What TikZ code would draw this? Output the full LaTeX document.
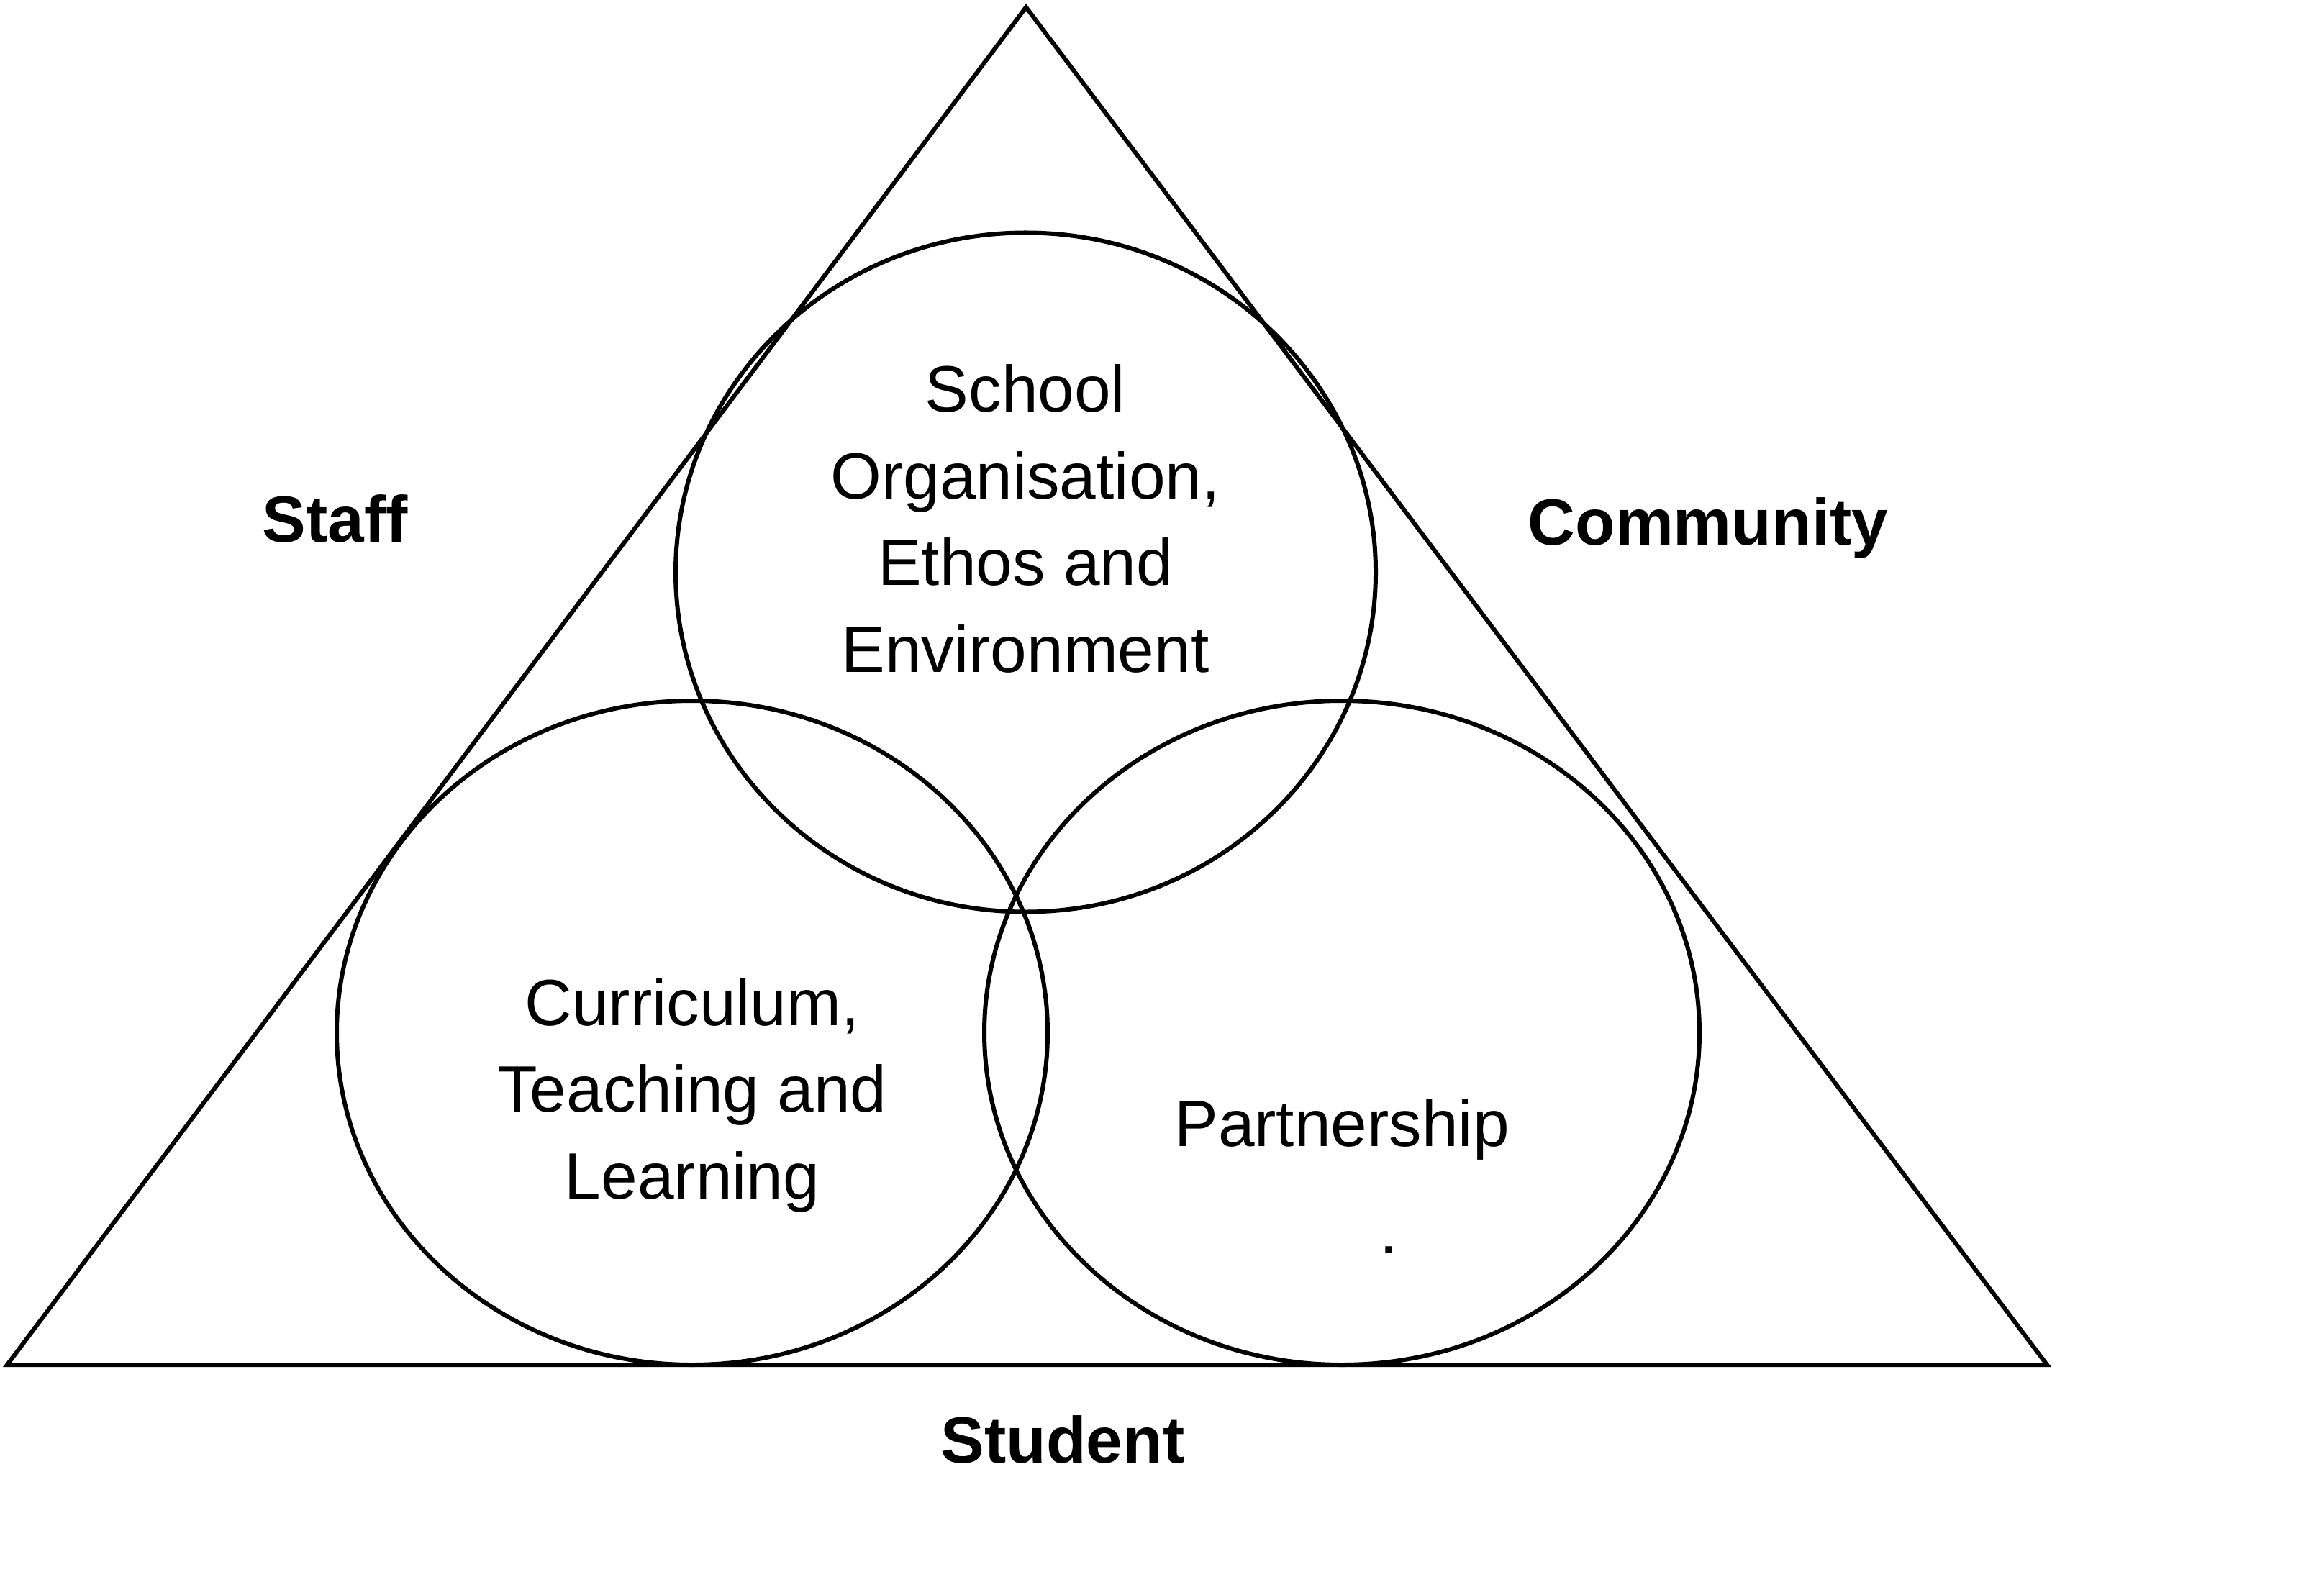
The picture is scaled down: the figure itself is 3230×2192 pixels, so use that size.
\documentclass[tikz,border=0pt]{standalone}
\usepackage{fontspec}
\setmainfont{Liberation Sans}
\begin{document}
\begin{tikzpicture}[x=0.25pt,y=-0.25pt,
  shapeline/.style={line width=1.5pt,black},
  lbl/.style={inner sep=0pt,anchor=base,align=center,font=\fontsize{22.75}{30.1}\selectfont},
  boldlbl/.style={inner sep=0pt,anchor=base,font=\fontsize{22.75}{30.1}\selectfont\bfseries}]
\useasboundingbox (0,0) rectangle (3230,2192);
% triangle
\coordinate (apex) at (1426,10);
\coordinate (bl) at (10,1897);
\coordinate (br) at (2845,1897);
\draw[shapeline,line join=miter] (apex) -- (br) -- (bl) -- cycle;
% ellipses
\coordinate (ctop) at (1425.5,795.5);
\coordinate (cleft) at (962,1435.5);
\coordinate (cright) at (1865,1435.5);
\draw[shapeline] (ctop) ellipse [x radius=121.625pt, y radius=118pt];
\draw[shapeline] (cleft) ellipse [x radius=123.5pt, y radius=115.375pt];
\draw[shapeline] (cright) ellipse [x radius=124.25pt, y radius=115.375pt];
% texts (base anchor = baseline of the last line)
\node[lbl] (school) at (1425,934) {School\\Organisation,\\Ethos and\\Environment};
\node[lbl] (curric) at (962,1666) {Curriculum,\\Teaching and\\Learning};
\node[lbl] (partner) at (1865,1593) {Partnership};
\node[lbl] (dot) at (1930,1742) {.};
\node[boldlbl] (staff) at (466,754) {Staff};
\node[boldlbl] (community) at (2374,758) {Community};
\node[boldlbl] (student) at (1477,2033) {Student};
\end{tikzpicture}
\end{document}
